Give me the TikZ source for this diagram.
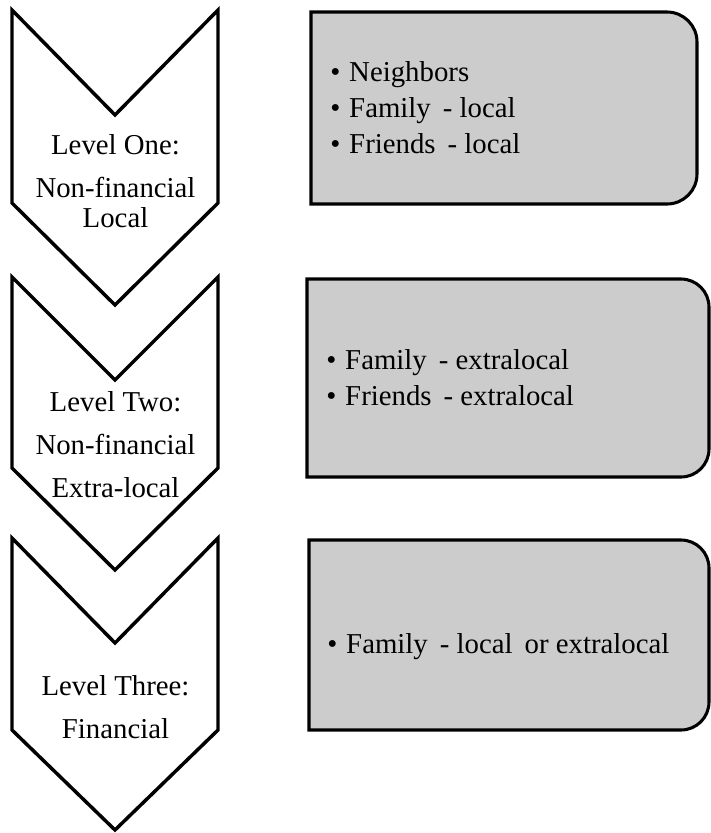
\documentclass[tikz,border=0pt]{standalone}
\usepackage{fontspec}
\setmainfont{Liberation Serif}
\newcommand{\itm}{\makebox[14.25pt][l]{•}}
\begin{document}
\begin{tikzpicture}[x=0.75pt,y=-0.75pt,
  chevron/.style={draw=black,line width=2.6pt,fill=white,line join=miter},
  infobox/.style={draw=black,line width=2.3pt,fill=boxgray},
  lvl/.style={anchor=base,inner sep=0pt,font=\fontsize{21.6pt}{26pt}\selectfont},
  itemtxt/.style={anchor=base west,inner sep=0pt,font=\fontsize{21.6pt}{26pt}\selectfont}]
\definecolor{boxgray}{HTML}{CCCCCC}
\useasboundingbox (0,0) rectangle (711,833);

% chevrons, top to bottom
\draw[chevron] (12,10) -- (115,115) -- (218,10) -- (218,203) -- (115,305) -- (12,203) -- cycle;
\draw[chevron] (12,277) -- (115,380) -- (218,277) -- (218,468) -- (115,570) -- (12,468) -- cycle;
\draw[chevron] (12,538) -- (115,643) -- (218,538) -- (218,730) -- (115,830) -- (12,730) -- cycle;

\node[lvl] (l1a) at (115.5,154) {Level One:};
\node[lvl] (l1b) at (115.5,197) {Non-financial};
\node[lvl] (l1c) at (115.5,227.5) {Local};

\node[lvl] (l2a) at (115.5,411.5) {Level Two:};
\node[lvl] (l2b) at (115.5,454.5) {Non-financial};
\node[lvl] (l2c) at (115.5,497.5) {Extra-local};

\node[lvl] (l3a) at (115.5,695) {Level Three:};
\node[lvl] (l3b) at (115.5,738) {Financial};

% boxes with rounded right corners
\draw[infobox] (311,12) -- (667,12) arc[start angle=-90,end angle=0,radius=30]
  -- (697,174) arc[start angle=0,end angle=90,radius=30] -- (311,204) -- cycle;
\draw[infobox] (307,279) -- (681,279) arc[start angle=-90,end angle=0,radius=28]
  -- (709,449) arc[start angle=0,end angle=90,radius=28] -- (307,477) -- cycle;
\draw[infobox] (309,540) -- (681,540) arc[start angle=-90,end angle=0,radius=28]
  -- (709,702) arc[start angle=0,end angle=90,radius=28] -- (309,730) -- cycle;

\node[itemtxt] (b1a) at (330,81) {\itm Neighbors};
\node[itemtxt] (b1b) at (330,117) {\itm Family\, - local};
\node[itemtxt] (b1c) at (330,153) {\itm Friends\, - local};

\node[itemtxt] (b2a) at (326,369) {\itm Family\, - extralocal};
\node[itemtxt] (b2b) at (326,405) {\itm Friends\, - extralocal};

\node[itemtxt] (b3a) at (327,653) {\itm Family\, - local\, or extralocal};
\end{tikzpicture}
\end{document}
